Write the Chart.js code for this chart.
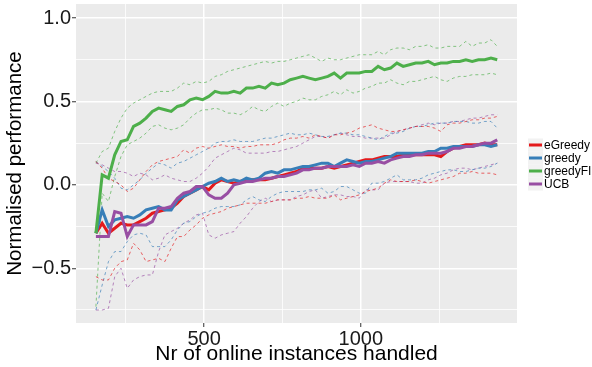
<!DOCTYPE html>
<html>
<head>
<meta charset="utf-8">
<script src="https://cdn.jsdelivr.net/npm/chart.js@4"></script>
<style>
  html, body { margin: 0; padding: 0; background: #fff; }
</style>
</head>
<body>
<canvas id="perf-chart" width="592" height="367"></canvas>
<script>
// x: number of online instances handled
const instances = [155, 175, 195, 215, 235, 255, 275, 295, 315, 335, 355, 375, 395, 415, 435, 455, 475, 495, 515, 535,
    555, 575, 595, 615, 635, 655, 675, 695, 715, 735, 755, 775, 795, 815, 835, 855, 875, 895, 915, 935,
    955, 975, 995, 1015, 1035, 1055, 1075, 1095, 1115, 1135, 1155, 1175, 1195, 1215, 1235, 1255, 1275, 1295, 1315, 1335,
    1355, 1375, 1395, 1415, 1435];

const methods = ['eGreedy', 'greedy', 'greedyFI', 'UCB'];
const colors = ['#E41A1C', '#377EB8', '#4DAF4A', '#984EA3'];

const eGreedyMean = [-0.29, -0.23, -0.29, -0.26, -0.23, -0.24, -0.24, -0.22, -0.20, -0.17, -0.16, -0.15, -0.14, -0.11, -0.07, -0.05, -0.03, -0.01, -0.03, 0.01,
    0.03, 0.02, 0.01, 0.02, 0.03, 0.03, 0.03, 0.03, 0.04, 0.05, 0.06, 0.07, 0.08, 0.10, 0.10, 0.10, 0.10, 0.11, 0.10, 0.11,
    0.12, 0.13, 0.14, 0.15, 0.15, 0.16, 0.17, 0.17, 0.17, 0.18, 0.18, 0.18, 0.18, 0.18, 0.18, 0.17, 0.20, 0.22, 0.23, 0.24,
    0.24, 0.24, 0.25, 0.24, 0.24];
const eGreedyUpper = [0.14, 0.10, 0.04, 0.02, 0.00, -0.04, -0.02, 0.03, 0.08, 0.12, 0.14, 0.15, 0.16, 0.17, 0.21, 0.19, 0.22, 0.23, 0.22, 0.23,
    0.24, 0.23, 0.23, 0.22, 0.23, 0.23, 0.24, 0.24, 0.24, 0.25, 0.27, 0.28, 0.28, 0.29, 0.28, 0.30, 0.29, 0.28, 0.30, 0.30,
    0.31, 0.32, 0.34, 0.35, 0.36, 0.34, 0.33, 0.32, 0.32, 0.33, 0.34, 0.35, 0.35, 0.35, 0.34, 0.32, 0.36, 0.37, 0.37, 0.38,
    0.39, 0.39, 0.40, 0.40, 0.41];
const eGreedyLower = [-0.55, -0.57, -0.57, -0.50, -0.46, -0.45, -0.35, -0.39, -0.46, -0.45, -0.44, -0.46, -0.38, -0.31, -0.31, -0.27, -0.24, -0.20, -0.18, -0.17,
    -0.16, -0.14, -0.13, -0.12, -0.11, -0.11, -0.11, -0.11, -0.10, -0.09, -0.09, -0.09, -0.08, -0.08, -0.07, -0.08, -0.08, -0.08, -0.06, -0.09,
    -0.08, -0.07, -0.06, -0.04, -0.03, -0.02, 0.01, 0.03, 0.02, 0.02, 0.02, 0.03, 0.02, 0.01, 0.02, 0.03, 0.04, 0.05, 0.07, 0.07,
    0.08, 0.07, 0.07, 0.07, 0.06];

const greedyMean = [-0.29, -0.15, -0.25, -0.21, -0.20, -0.19, -0.20, -0.18, -0.15, -0.14, -0.13, -0.15, -0.15, -0.09, -0.07, -0.05, -0.03, -0.01, 0.01, 0.02,
    0.04, 0.02, 0.03, 0.02, 0.04, 0.03, 0.04, 0.07, 0.08, 0.07, 0.09, 0.09, 0.10, 0.11, 0.11, 0.12, 0.13, 0.13, 0.11, 0.13,
    0.15, 0.14, 0.13, 0.14, 0.14, 0.15, 0.16, 0.17, 0.19, 0.19, 0.19, 0.19, 0.19, 0.20, 0.20, 0.22, 0.22, 0.23, 0.23, 0.23,
    0.23, 0.24, 0.24, 0.23, 0.24];
const greedyUpper = [0.14, 0.11, 0.08, 0.04, -0.02, -0.03, 0.00, 0.03, 0.07, 0.10, 0.13, 0.12, 0.10, 0.13, 0.14, 0.16, 0.18, 0.20, 0.22, 0.25,
    0.26, 0.26, 0.27, 0.26, 0.26, 0.26, 0.27, 0.28, 0.28, 0.29, 0.30, 0.31, 0.30, 0.30, 0.31, 0.30, 0.29, 0.29, 0.30, 0.31,
    0.31, 0.30, 0.30, 0.29, 0.28, 0.27, 0.29, 0.31, 0.31, 0.32, 0.34, 0.35, 0.35, 0.36, 0.37, 0.37, 0.37, 0.38, 0.38, 0.38,
    0.37, 0.37, 0.38, 0.38, 0.34];
const greedyLower = [-0.75, -0.60, -0.46, -0.40, -0.40, -0.34, -0.30, -0.29, -0.30, -0.37, -0.37, -0.37, -0.33, -0.27, -0.23, -0.22, -0.19, -0.17, -0.16, -0.14,
    -0.13, -0.13, -0.13, -0.12, -0.09, -0.07, -0.09, -0.10, -0.07, -0.05, -0.04, -0.04, -0.04, -0.04, -0.03, -0.03, -0.02, -0.05, -0.04, -0.01,
    -0.01, -0.03, -0.05, -0.05, 0.01, 0.01, 0.02, 0.04, 0.06, 0.03, 0.03, 0.03, 0.04, 0.06, 0.07, 0.08, 0.09, 0.09, 0.08, 0.08,
    0.09, 0.10, 0.10, 0.11, 0.13];

const greedyFIMean = [-0.29, 0.06, 0.04, 0.18, 0.26, 0.27, 0.35, 0.37, 0.40, 0.44, 0.46, 0.45, 0.44, 0.47, 0.48, 0.51, 0.52, 0.51, 0.53, 0.56,
    0.55, 0.55, 0.56, 0.55, 0.58, 0.58, 0.59, 0.58, 0.61, 0.60, 0.61, 0.63, 0.64, 0.65, 0.64, 0.63, 0.64, 0.65, 0.67, 0.64,
    0.67, 0.67, 0.67, 0.68, 0.68, 0.71, 0.69, 0.70, 0.73, 0.71, 0.72, 0.73, 0.73, 0.74, 0.72, 0.73, 0.73, 0.74, 0.74, 0.75,
    0.74, 0.75, 0.75, 0.76, 0.75];
const greedyFIUpper = [0.13, 0.20, 0.22, 0.32, 0.40, 0.46, 0.49, 0.51, 0.53, 0.55, 0.56, 0.56, 0.56, 0.58, 0.61, 0.60, 0.62, 0.61, 0.62, 0.65,
    0.66, 0.68, 0.69, 0.70, 0.71, 0.72, 0.73, 0.74, 0.73, 0.74, 0.74, 0.75, 0.76, 0.77, 0.78, 0.76, 0.74, 0.76, 0.75, 0.75,
    0.76, 0.77, 0.78, 0.78, 0.78, 0.80, 0.78, 0.81, 0.82, 0.82, 0.81, 0.83, 0.83, 0.84, 0.82, 0.82, 0.83, 0.83, 0.83, 0.86,
    0.83, 0.85, 0.85, 0.87, 0.83];
const greedyFILower = [-0.73, -0.05, -0.10, 0.05, 0.17, 0.24, 0.26, 0.28, 0.31, 0.35, 0.36, 0.34, 0.33, 0.34, 0.36, 0.40, 0.43, 0.45, 0.45, 0.46,
    0.45, 0.43, 0.43, 0.42, 0.44, 0.47, 0.45, 0.44, 0.47, 0.49, 0.47, 0.49, 0.50, 0.52, 0.51, 0.51, 0.53, 0.54, 0.56, 0.54,
    0.57, 0.55, 0.56, 0.58, 0.59, 0.61, 0.61, 0.63, 0.61, 0.60, 0.62, 0.62, 0.63, 0.64, 0.65, 0.63, 0.62, 0.64, 0.65, 0.65,
    0.66, 0.66, 0.66, 0.67, 0.66];

const ucbMean = [-0.31, -0.31, -0.31, -0.16, -0.17, -0.31, -0.24, -0.24, -0.24, -0.22, -0.14, -0.14, -0.13, -0.08, -0.05, -0.04, -0.01, -0.01, -0.06, -0.08,
    -0.08, -0.05, 0.00, 0.01, 0.02, 0.02, 0.03, 0.04, 0.04, 0.05, 0.05, 0.06, 0.07, 0.09, 0.09, 0.10, 0.10, 0.11, 0.11, 0.11,
    0.11, 0.12, 0.11, 0.13, 0.13, 0.14, 0.13, 0.15, 0.16, 0.17, 0.17, 0.18, 0.18, 0.19, 0.19, 0.19, 0.20, 0.22, 0.22, 0.23,
    0.23, 0.24, 0.25, 0.25, 0.27];
const ucbUpper = [0.13, 0.12, 0.10, 0.08, 0.08, 0.07, 0.05, 0.07, 0.06, 0.03, 0.04, 0.06, 0.04, 0.03, 0.02, 0.02, 0.04, 0.07, 0.11, 0.16,
    0.18, 0.20, 0.22, 0.21, 0.19, 0.19, 0.19, 0.19, 0.20, 0.20, 0.21, 0.22, 0.23, 0.25, 0.27, 0.29, 0.29, 0.28, 0.30, 0.31,
    0.30, 0.29, 0.29, 0.28, 0.28, 0.28, 0.28, 0.30, 0.32, 0.33, 0.34, 0.35, 0.36, 0.37, 0.36, 0.37, 0.37, 0.38, 0.38, 0.39,
    0.40, 0.40, 0.41, 0.42, 0.42];
const ucbLower = [-0.75, -0.75, -0.74, -0.55, -0.50, -0.62, -0.57, -0.55, -0.54, -0.54, -0.40, -0.30, -0.28, -0.26, -0.23, -0.21, -0.18, -0.17, -0.30, -0.32,
    -0.30, -0.29, -0.28, -0.23, -0.19, -0.14, -0.10, -0.08, -0.10, -0.09, -0.09, -0.09, -0.07, -0.06, -0.04, -0.03, -0.08, -0.07, -0.06, -0.06,
    -0.07, -0.07, -0.08, -0.03, -0.03, -0.03, 0.01, 0.02, 0.02, 0.02, 0.02, 0.01, 0.01, 0.03, 0.04, 0.06, 0.07, 0.09, 0.10, 0.10,
    0.09, 0.10, 0.11, 0.12, 0.13];

const yTicks = [-0.5, 0, 0.5, 1.0];
const xTicks = [500, 1000];

const means = [eGreedyMean, greedyMean, greedyFIMean, ucbMean];
const uppers = [eGreedyUpper, greedyUpper, greedyFIUpper, ucbUpper];
const lowers = [eGreedyLower, greedyLower, greedyFILower, ucbLower];

function toPoints(values) {
    return values.map((v, i) => ({ x: instances[i], y: v }));
}

function fade(hex, alpha) {
    const n = parseInt(hex.slice(1), 16);
    return `rgba(${n >> 16}, ${(n >> 8) & 255}, ${n & 255}, ${alpha})`;
}

const datasets = [];
methods.forEach((name, i) => {
    [uppers[i], lowers[i]].forEach((band) => {
        datasets.push({
            label: name + ' band',
            data: toPoints(band),
            borderColor: fade(colors[i], 0.75),
            borderWidth: 0.9,
            borderDash: [3, 3],
            pointRadius: 0,
            tension: 0,
            order: 10
        });
    });
});
methods.forEach((name, i) => {
    datasets.push({
        label: name,
        data: toPoints(means[i]),
        borderColor: colors[i],
        borderWidth: 3,
        pointRadius: 0,
        tension: 0,
        order: methods.length - i
    });
});

const isMajorY = (v) => yTicks.some((t) => Math.abs(t - v) < 1e-6);
const isMajorX = (v) => xTicks.includes(v);

// grey panel like ggplot
const panelBg = {
    id: 'panelBg',
    beforeDraw(chart) {
        const { ctx, chartArea: a } = chart;
        ctx.save();
        ctx.fillStyle = '#EBEBEB';
        ctx.fillRect(a.left, a.top, a.right - a.left, a.bottom - a.top);
        ctx.restore();
    }
};

// legend drawn by hand on the right
const sideLegend = {
    id: 'sideLegend',
    afterDraw(chart) {
        const ctx = chart.ctx;
        ctx.save();
        ctx.font = '12px "Liberation Sans", Arial, sans-serif';
        ctx.textBaseline = 'middle';
        methods.forEach((name, i) => {
            const y = 145 + i * 13;
            ctx.fillStyle = '#F2F2F2';
            ctx.fillRect(528, y - 6.5, 15, 13);
            ctx.strokeStyle = colors[i];
            ctx.lineWidth = 3;
            ctx.beginPath();
            ctx.moveTo(529, y);
            ctx.lineTo(542, y);
            ctx.stroke();
            ctx.fillStyle = '#000';
            ctx.fillText(name, 544, y + 0.5);
        });
        ctx.restore();
    }
};

const fontFamily = '"Liberation Sans", Arial, sans-serif';

new Chart(document.getElementById('perf-chart'), {
    type: 'line',
    data: { datasets: datasets },
    options: {
        responsive: false,
        animation: false,
        layout: { padding: { top: 4, right: 75, left: 0, bottom: 0 } },
        plugins: {
            legend: { display: false },
            tooltip: { enabled: false }
        },
        scales: {
            x: {
                type: 'linear',
                min: 91.5,
                max: 1498,
                afterFit: (scale) => {
                    scale.height = 44;
                    scale.paddingLeft = 0;
                    scale.paddingRight = 0;
                },
                border: { display: false },
                grid: {
                    color: '#FFFFFF',
                    lineWidth: (c) => (isMajorX(c.tick.value) ? 1.5 : 0.8),
                    tickColor: (c) => (isMajorX(c.tick.value) ? '#333333' : 'rgba(0,0,0,0)'),
                    tickLength: 4,
                    tickWidth: 1
                },
                ticks: {
                    stepSize: 250,
                    includeBounds: false,
                    maxRotation: 0,
                    autoSkip: false,
                    padding: 0,
                    color: '#1A1A1A',
                    font: { family: fontFamily, size: 20 },
                    callback: (v) => (isMajorX(v) ? String(v) : '')
                },
                title: {
                    display: true,
                    text: 'Nr of online instances handled',
                    color: '#000',
                    font: { family: fontFamily, size: 21 },
                    padding: { top: 0, bottom: 0 }
                }
            },
            y: {
                min: -0.828,
                max: 1.084,
                afterFit: (scale) => {
                    scale.width = 76;
                    scale.paddingTop = 0;
                    scale.paddingBottom = 0;
                },
                border: { display: false },
                grid: {
                    color: '#FFFFFF',
                    lineWidth: (c) => (isMajorY(c.tick.value) ? 1.5 : 0.8),
                    tickColor: (c) => (isMajorY(c.tick.value) ? '#333333' : 'rgba(0,0,0,0)'),
                    tickLength: 4,
                    tickWidth: 1
                },
                ticks: {
                    stepSize: 0.25,
                    includeBounds: false,
                    autoSkip: false,
                    padding: 1,
                    color: '#1A1A1A',
                    font: { family: fontFamily, size: 20 },
                    callback: (v) => (isMajorY(v) ? v.toFixed(1).replace('-', '\u2212') : '')
                },
                title: {
                    display: true,
                    text: 'Normalised performance',
                    color: '#000',
                    font: { family: fontFamily, size: 20.5 },
                    padding: { top: 3, bottom: 0 }
                }
            }
        }
    },
    plugins: [panelBg, sideLegend]
});
</script>
</body>
</html>
